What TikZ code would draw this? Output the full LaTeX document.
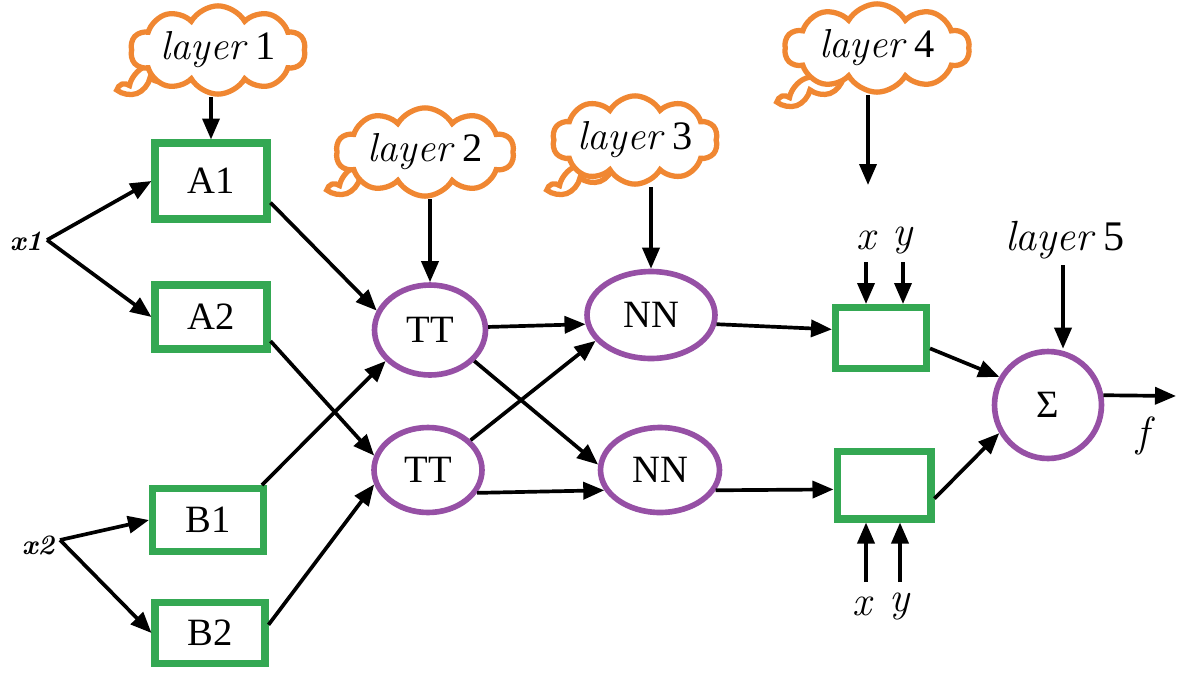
\documentclass[tikz,border=0pt]{standalone}
\usepackage{fontspec}
\setmainfont{Liberation Serif}
\newfontfamily\lmr{Latin Modern Roman}
\usetikzlibrary{arrows.meta,shapes.geometric,shapes.symbols}
\definecolor{boxgreen}{RGB}{52,168,83}
\definecolor{ellpurple}{RGB}{150,80,165}
\definecolor{cloudorange}{RGB}{240,135,50}
\newcommand{\lit}[1]{{\lmr\itshape #1}}
\begin{document}
\begin{tikzpicture}[x=0.02cm,y=-0.02cm,
  arr/.style={-{Triangle[length=0.42cm,width=0.34cm]},line width=2.1pt},
  gbox/.style={rectangle,draw=boxgreen,line width=4pt,inner sep=0pt,font=\fontsize{22}{26}\selectfont},
  ell/.style={ellipse,draw=ellpurple,line width=3.2pt,inner sep=0pt,font=\fontsize{22}{26}\selectfont},
  lcloud/.style={cloud,draw=cloudorange,fill=white,line width=3pt,cloud puffs=10,cloud puff arc=120,aspect=2.6,inner sep=0pt,font=\fontsize{23}{27}\selectfont},
  ctail/.style={cloud,draw=cloudorange,fill=white,line width=3pt,cloud puffs=5,cloud puff arc=120,aspect=2.2,inner sep=0pt,minimum width=1.2cm,minimum height=0.5cm,rotate=20},
  lab/.style={inner sep=1pt,font=\fontsize{24}{28}\selectfont},
  xlab/.style={inner sep=1pt,font=\fontsize{16}{19}\selectfont\bfseries\itshape\lmr}]
\useasboundingbox (0,0) rectangle (1179,673);
\fill[white] (0,0) rectangle (1179,673);
% boxes
\node[gbox,minimum width=2.24cm,minimum height=1.52cm] (A1) at (211,181) {A1};
\node[gbox,minimum width=2.24cm,minimum height=1.28cm] (A2) at (211,317) {A2};
\node[gbox,minimum width=2.22cm,minimum height=1.26cm] (B1) at (208,520) {B1};
\node[gbox,minimum width=2.20cm,minimum height=1.22cm] (B2) at (210,633) {B2};
\node[gbox,minimum width=1.82cm,minimum height=1.22cm] (R1) at (881,338) {};
\node[gbox,minimum width=1.88cm,minimum height=1.36cm] (R2) at (884,485) {};
% ellipses
\node[ell,minimum width=2.22cm,minimum height=1.80cm] (TT1) at (430,330) {TT};
\node[ell,minimum width=2.16cm,minimum height=1.70cm] (TT2) at (428,470) {TT};
\node[ell,minimum width=2.56cm,minimum height=1.74cm] (NN1) at (651,315) {NN};
\node[ell,minimum width=2.38cm,minimum height=1.70cm] (NN2) at (660,470) {NN};
\node[ell,circle,minimum size=2.14cm] (S) at (1048,405) {Σ};
% clouds (tails first, then bodies)
\node[ctail] (T1) at (150,78) {};
\node[ctail] (T2) at (360,178) {};
\node[ctail] (T3) at (580,178) {};
\node[ctail] (T4) at (810,90) {};
\node[lcloud,minimum width=3.5cm,minimum height=1.36cm] (L1) at (218,50) {\lit{layer} 1};
\node[lcloud,minimum width=3.56cm,minimum height=1.24cm] (L2) at (425,152) {\lit{layer} 2};
\node[lcloud,minimum width=3.16cm,minimum height=1.40cm] (L3) at (635,140) {\lit{layer} 3};
\node[lcloud,minimum width=3.70cm,minimum height=1.50cm] (L4) at (877,48) {\lit{layer} 4};
\node[lab] (L5) at (1065,240) {\lit{layer} 5};
% input labels
\node[xlab] (x1) at (26,241) {x1};
\node[xlab] (x2) at (38,545) {x2};
\coordinate (x1p) at (47,240);
\coordinate (x2p) at (60,540);
\node[lab] (xa) at (866,240) {\lit{x}};
\node[lab] (ya) at (903,240) {\lit{y}};
\node[lab] (xb) at (862,606) {\lit{x}};
\node[lab] (yb) at (900,606) {\lit{y}};
\node[lab] (f) at (1143,436) {\lit{f}};
\coordinate (xas) at (866,262);
\coordinate (yas) at (903,262);
\coordinate (xbs) at (866,582);
\coordinate (ybs) at (900,582);
\coordinate (l4e) at (868,185);
\coordinate (l5s) at (1063,265);
\coordinate (fend) at (1176,396);
% connectors
\draw[arr] (x1p) -- (A1.west);
\draw[arr] (x1p) -- (A2.west);
\draw[arr] (x2p) -- (B1.west);
\draw[arr] (x2p) -- (B2.west);
\draw[arr] (L1.south -| A1.north) -- (A1.north);
\draw[arr] (L2.south -| TT1.north) -- (TT1.north);
\draw[arr] (L3.south -| NN1.north) -- (NN1.north);
\draw[arr] (L4.south -| l4e) -- (l4e);
\draw[arr] (l5s) -- (l5s |- S.north);
\draw[arr] (A1.-20) -- (TT1.160);
\draw[arr] (A2.-22) -- (TT2.165);
\draw[arr] (B1.33) -- (TT1.-145);
\draw[arr] (B2.8) -- (TT2.-165);
\draw[arr] (TT1.3) -- (NN1.-172);
\draw[arr] (TT1.-35) -- (NN2.175);
\draw[arr] (TT2.35) -- (NN1.-155);
\draw[arr] (TT2.-25) -- (NN2.-160);
\draw[arr] (NN1.-8) -- (R1.170);
\draw[arr] (NN2.-20) -- (R2.185);
\draw[arr] (R1.-12) -- (S.150);
\draw[arr] (R2.-15) -- (S.-150);
\draw[arr] (S.10) -- (fend);
\draw[arr] (xas) -- (xas |- R1.north);
\draw[arr] (yas) -- (yas |- R1.north);
\draw[arr] (xbs) -- (xbs |- R2.south);
\draw[arr] (ybs) -- (ybs |- R2.south);
\end{tikzpicture}
\end{document}
